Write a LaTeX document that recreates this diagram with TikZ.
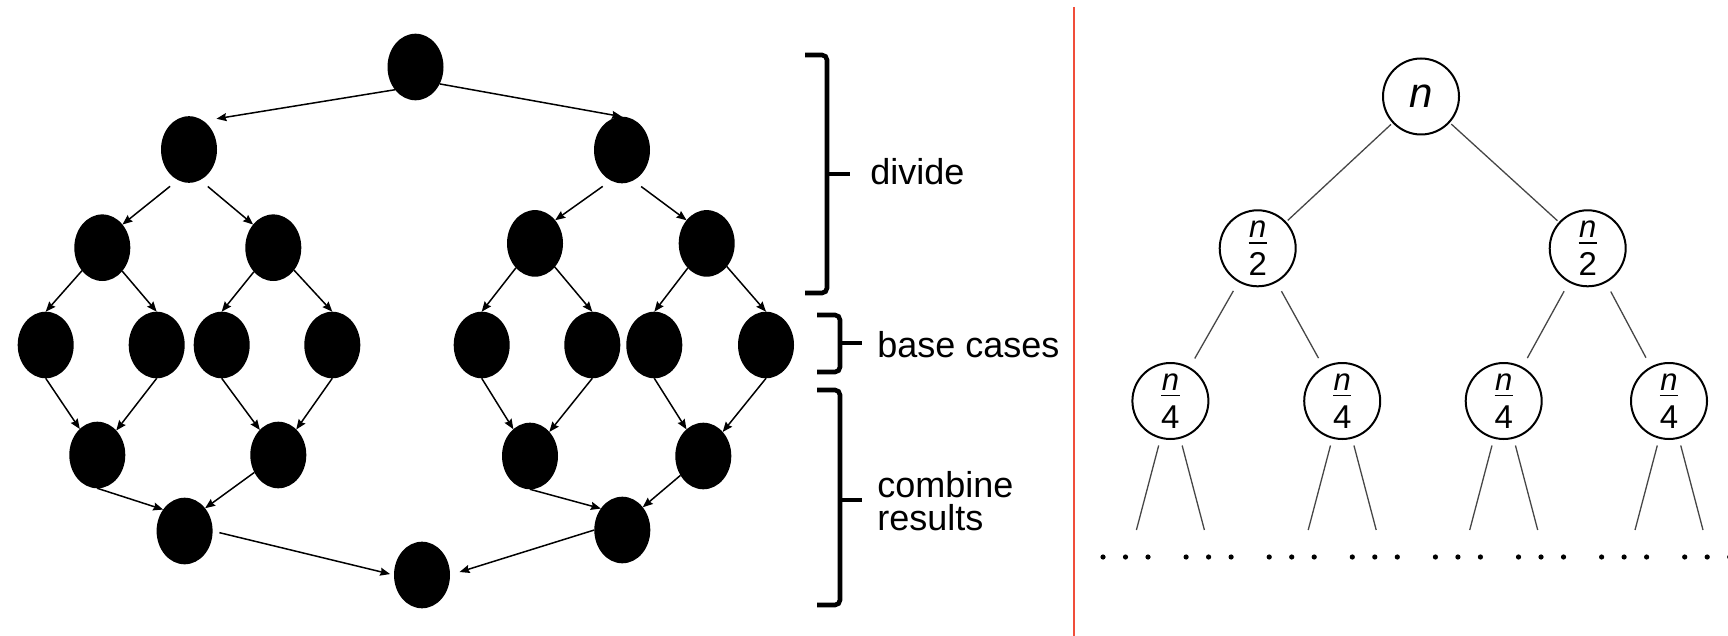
\documentclass[tikz,border=0pt]{standalone}
\usepackage{amsmath}
\usepackage{fontspec}
\setmainfont{Liberation Sans}
\usetikzlibrary{shapes.geometric,arrows.meta}

\definecolor{divider}{RGB}{240,78,58}
\definecolor{treeline}{RGB}{70,70,70}

% n over a number, as in the recursion tree
\newcommand{\nover}[1]{{\nulldelimiterspace=0pt
  $\genfrac{}{}{0.75pt}{1}{\mbox{\fontsize{15.5}{16}\selectfont\itshape n}}{\mbox{\rule{0pt}{15.2pt}#1}}$}}

\tikzset{
  blob/.style={ellipse, fill=black, minimum width=28pt, minimum height=33.3pt, inner sep=0pt, outer sep=0pt},
  arr/.style={-{Stealth[length=5pt,width=4pt,inset=0.6pt]}, line width=0.75pt},
  brk/.style={line width=2.3pt, rounded corners=2.5pt},
  lbl/.style={font=\fontsize{18}{16.5}\selectfont, inner sep=0pt, anchor=base west},
  sub/.style={circle, draw, line width=1pt, minimum size=38pt, inner sep=0pt, font=\fontsize{16.5}{17}\selectfont},
  twig/.style={treeline, line width=0.65pt}
}

\begin{document}
\begin{tikzpicture}[x=0.5pt,y=-0.5pt]
    \useasboundingbox (0,0) rectangle (1728,636);

    %Divide and conquer graph
    \node[blob] (top) at (415.5,67) {};
    \node[blob] (l1a) at (189,149.5) {};
    \node[blob] (l1b) at (622,150) {};
    \node[blob] (l2a) at (102.3,247.7) {};
    \node[blob] (l2b) at (273.3,247.7) {};
    \node[blob] (l2c) at (535,243.4) {};
    \node[blob] (l2d) at (706.7,243.4) {};
    \node[blob] (l3a) at (45.7,345) {};
    \node[blob] (l3b) at (156.7,345) {};
    \node[blob] (l3c) at (221.7,345) {};
    \node[blob] (l3d) at (332.3,345) {};
    \node[blob] (l3e) at (481.7,345) {};
    \node[blob] (l3f) at (592.3,345) {};
    \node[blob] (l3g) at (654.3,345) {};
    \node[blob] (l3h) at (766,345) {};
    \node[blob] (l4a) at (97.3,455) {};
    \node[blob] (l4b) at (278.3,455) {};
    \node[blob] (l4c) at (530,456) {};
    \node[blob] (l4d) at (703.3,456) {};
    \node[blob] (l5a) at (184.6,531) {};
    \node[blob] (l5b) at (622.3,530) {};
    \node[blob] (bot) at (422,575) {};

    %Arrows down
    \draw[arr] (top.228) -- ([shift={(7,-8)}]l1a.48);
    \draw[arr] (top.325) -- (l1b.north);
    \draw[arr, shorten <=5pt] (l1a.250) -- (l2a.49);
    \draw[arr, shorten <=5pt] (l1a.290) -- (l2b.131);
    \draw[arr, shorten <=5pt] (l1b.250) -- (l2c.49);
    \draw[arr, shorten <=5pt] (l1b.290) -- (l2d.131);
    \draw[arr] (l2a) -- (l3a.north);
    \draw[arr] (l2a) -- (l3b.north);
    \draw[arr] (l2b) -- (l3c.north);
    \draw[arr] (l2b) -- (l3d.north);
    \draw[arr] (l2c) -- (l3e.north);
    \draw[arr] (l2c) -- (l3f.north);
    \draw[arr] (l2d) -- (l3g.north);
    \draw[arr] (l2d) -- (l3h.north);

    %Arrows back up
    \draw[arr] (l3a.south) -- (l4a);
    \draw[arr] (l3b.south) -- (l4a);
    \draw[arr] (l3c.south) -- (l4b);
    \draw[arr] (l3d.south) -- (l4b);
    \draw[arr] (l3e.south) -- (l4c);
    \draw[arr] (l3f.south) -- (l4c);
    \draw[arr] (l3g.south) -- (l4d);
    \draw[arr] (l3h.south) -- (l4d);
    \draw[arr] (l4a.south) -- (l5a.135);
    \draw[arr] (l4b) -- (l5a.48);
    \draw[arr] (l4c.south) -- (l5b.135);
    \draw[arr] (l4d) -- (l5b.48);
    \draw[arr, shorten <=3.5pt, shorten >=2pt] (l5a.east) -- (bot.west);
    \draw[arr, shorten >=5pt] (l5b.west) -- (bot.east);

    %Brackets
    \draw[brk] (805,55) -| (827,293) -- (805,293);
    \draw[brk] (827,174) -- (850,174);
    \draw[brk] (817,315) -| (840,372) -- (817,372);
    \draw[brk] (840,343) -- (862,343);
    \draw[brk] (817,390) -| (840,605) -- (817,605);
    \draw[brk] (840,500) -- (862,500);
    \node[lbl] (divide) at (870,185) {divide};
    \node[lbl] (base) at (877,357) {base cases};
    \node[lbl, align=left] (combine) at (877,530) {combine\\results};

    %Divider
    \draw[divider, line width=1.3pt] (1074,7) -- (1074,636);

    %Recursion tree
    \node[sub] (nn) at (1421,96.5) {\fontsize{21}{21}\selectfont\itshape n};
    \node[sub] (h1) at (1257.7,248.3) {\nover{2}};
    \node[sub] (h2) at (1587.7,248.3) {\nover{2}};
    \draw[twig, shorten <=1pt, shorten >=1pt] (nn) -- (h1);
    \draw[twig, shorten <=1pt, shorten >=1pt] (nn) -- (h2);
    \foreach \name/\x in {q1/1170.4,q2/1342.2,q3/1503.7,q4/1669}{
        \node[sub] (\name) at (\x,401) {\nover{4}};
        \coordinate (\name l) at (\x-34,530);
        \coordinate (\name r) at (\x+34,530);
        \draw[twig, shorten <=3.5pt] (\name) -- (\name l);
        \draw[twig, shorten <=3.5pt] (\name) -- (\name r);
    }
    \draw[twig, shorten <=5pt, shorten >=5pt] (h1) -- (q1);
    \draw[twig, shorten <=5pt, shorten >=5pt] (h1) -- (q2);
    \draw[twig, shorten <=5pt, shorten >=5pt] (h2) -- (q3);
    \draw[twig, shorten <=5pt, shorten >=5pt] (h2) -- (q4);

    %Dots
    \foreach \k in {0,...,7}{
        \foreach \d in {-22.5,0,22.5}{
            \fill ({1125.5+83.1*\k+\d},557) circle (1.3pt);
        }
    }
\end{tikzpicture}
\end{document}
